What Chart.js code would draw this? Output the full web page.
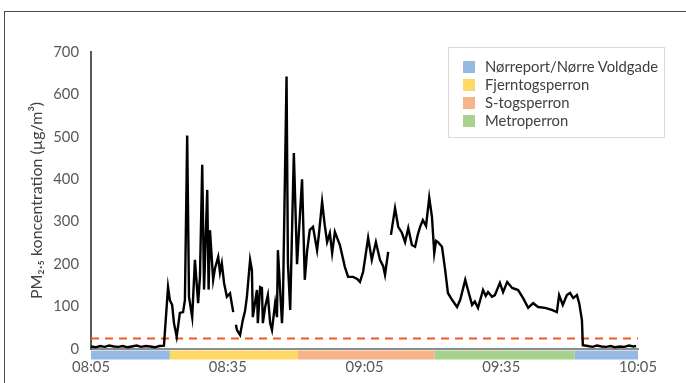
<!DOCTYPE html>
<html>
<head>
<meta charset="utf-8">
<script src="https://cdn.jsdelivr.net/npm/chart.js@4/dist/chart.umd.min.js"></script>
<style>
  body { margin: 0; background: #fff; }
  #wrap { position: relative; width: 686px; height: 383px; overflow: hidden; }
  #frame { position: absolute; left: 4px; top: 11px; width: 800px; height: 500px; border: 1.5px solid #4a4a4a; }
  #legend { position: absolute; left: 448px; top: 47px; width: 215px; height: 89px; border: 1px solid #d9d9d9;
            font-family: Lato, "Open Sans", sans-serif; font-size: 14.8px; color: #404040; }
  .item { position: absolute; left: 14px; height: 18px; line-height: 18px; white-space: nowrap; }
  .item i { display: inline-block; width: 12px; height: 12px; margin-right: 10px; vertical-align: -1px; }
  canvas { position: absolute; left: 0; top: 0; }
</style>
</head>
<body>
<div id="wrap">
  <div id="frame"></div>
  <canvas id="chart" width="686" height="383"></canvas>
  <div id="legend"></div>
</div>
<script>
// minutes after 08:05
const minutes = [
  0, 1, 2, 3, 4, 5, 6, 7, 8, 9, 10, 11, 12, 13, 14, 15, 16,
  16.9, 17.3, 17.8, 18.2, 18.8, 19.5, 20.2, 20.6, 21.1, 21.5, 22.2, 22.8, 23.5, 23.9, 24.4, 24.8, 25.5, 25.8, 26.1, 26.8,
  27.2, 27.9, 28.3, 28.7, 29.2, 29.8, 30.5, 31.2, 31.5,
  31.8, 32.0, 32.7, 33.3, 33.8, 34.2, 34.9, 35.3, 35.5, 36.4, 36.6, 37.1, 37.5, 37.7, 38.2, 38.8, 39.3, 39.7, 40.4, 40.8,
  41.0, 41.9, 42.1, 42.9, 43.2, 43.7, 44.5, 45.2, 46.3, 46.9, 47.4, 48.0, 48.7, 49.6, 50.0, 50.7, 51.3, 51.8, 52.4, 52.9,
  53.5, 54.0, 54.6, 55.7, 56.4, 57.5, 58.4, 59.0, 59.7, 60.8, 61.6, 62.5, 63.4, 64.1, 64.5, 65.2, 65.5,
  65.8, 66.7, 67.4, 68.2, 68.9, 69.6, 70.4, 71.1, 71.7, 72.2, 72.8, 73.5, 74.2, 74.8, 75.3, 75.7, 76.1, 77.0, 77.7, 78.3,
  79.2, 80.3, 81.0, 82.1, 82.7, 83.6, 84.2, 84.9, 86.0, 86.6, 87.1, 88.0, 88.6, 89.7, 90.4, 91.3, 92.4, 93.7, 94.8, 95.9,
  97.0, 98.1, 99.6, 101.1, 102.2, 102.7, 103.5, 104.4, 105.1, 105.8, 106.6, 107.1, 107.7, 107.9,
  109, 110, 111, 112, 113, 114, 115, 116, 117, 118, 119, 119.6
];
const pm25 = [
  6, 4, 7, 5, 8, 6, 5, 7, 4, 6, 8, 5, 7, 6, 4, 7, 8,
  146, 115, 104, 61, 29, 85, 87, 115, 503, 123, 75, 210, 108, 170, 434, 140, 375, 140, 280, 163,
  190, 217, 180, 202, 155, 123, 131, 87, null,
  57, 45, 33, 68, 90, 123, 210, 186, 75, 139, 61, 146, 144, 61, 99, 127, 61, 45, 108, 75,
  233, 61, 108, 642, 203, 92, 462, 200, 400, 163, 230, 281, 288, 233, 270, 347, 290, 252, 273, 226,
  276, 262, 245, 193, 170, 170, 165, 158, 182, 262, 210, 252, 210, 195, 175, 229, null,
  269, 332, 288, 274, 252, 285, 245, 241, 270, 288, 304, 290, 357, 311, 226, 255, 252, 241, 186, 132,
  116, 99, 116, 163, 139, 104, 112, 97, 139, 125, 134, 123, 127, 156, 134, 158, 144, 139, 120, 97,
  108, 99, 97, 92, 87, 127, 104, 127, 132, 120, 127, 108, 68, 9,
  7, 5, 8, 6, 5, 7, 4, 6, 5, 8, 6, 7
];

const limitMinutes = [0, 120];
const limitValues = [25, 25];

const locationLabels = ["Nørreport/Nørre Voldgade", "Fjerntogsperron", "S-togsperron", "Metroperron"];
const locationColors = ["#95b9e2", "#ffd966", "#f6b48a", "#a9d18e"];
const bandStart = [0, 17.3, 45.4, 75.4, 106.1];
const bandEnd = [17.3, 45.4, 75.4, 106.1, 120];
const bandLocation = [0, 1, 2, 3, 0];

const yTicks = [0, 100, 200, 300, 400, 500, 600, 700];

function clock(m) {
  const t = 8 * 60 + 5 + m;
  const h = Math.floor(t / 60), mm = t % 60;
  return String(h).padStart(2, "0") + ":" + String(mm).padStart(2, "0");
}

const bandPlugin = {
  id: "bands",
  afterDraw(chart) {
    const ctx = chart.ctx, x = chart.scales.x, area = chart.chartArea;
    ctx.save();
    bandStart.forEach((s, i) => {
      const x1 = x.getPixelForValue(s), x2 = x.getPixelForValue(bandEnd[i]);
      ctx.fillStyle = locationColors[bandLocation[i]];
      ctx.fillRect(x1, area.bottom + 1.5, x2 - x1, 9);
    });
    ctx.restore();
  }
};

const font = { family: "Lato, 'Open Sans', sans-serif", size: 14.8 };

new Chart(document.getElementById("chart"), {
  type: "scatter",
  data: {
    datasets: [
      {
        data: minutes.map((m, i) => ({ x: m, y: pm25[i] })),
        showLine: true,
        borderColor: "#000",
        borderWidth: 2.4,
        pointRadius: 0,
        spanGaps: false
      },
      {
        data: limitMinutes.map((m, i) => ({ x: m, y: limitValues[i] })),
        showLine: true,
        borderColor: "#f05a28",
        borderWidth: 2,
        borderDash: [8, 6],
        pointRadius: 0
      }
    ]
  },
  options: {
    responsive: false,
    animation: false,
    layout: { padding: { left: 27, top: 52, right: 48, bottom: 0 } },
    plugins: { legend: { display: false }, tooltip: { enabled: false } },
    scales: {
      x: {
        type: "linear",
        min: 0,
        max: 120,
        afterFit(s) { s.height = 34; },
        afterBuildTicks(s) { s.ticks = [0, 30, 60, 90, 120].map(v => ({ value: v })); },
        grid: { display: false, drawTicks: false },
        border: { display: true, color: "#8c8c8c", width: 2 },
        ticks: { color: "#595959", font: font, padding: 9, maxRotation: 0, callback: v => clock(v) }
      },
      y: {
        min: 0,
        max: 700,
        afterFit(s) { s.width = 64; },
        afterBuildTicks(s) { s.ticks = yTicks.map(v => ({ value: v })); },
        grid: { display: false, drawTicks: false },
        border: { display: true, color: "#595959", width: 2 },
        ticks: { color: "#595959", font: font, padding: 12 },
        title: {
          display: true,
          text: "PM₂.₅ koncentration (µg/m³)",
          color: "#404040",
          font: { family: font.family, size: 16 },
          padding: 0
        }
      }
    }
  },
  plugins: [bandPlugin]
});

const legend = document.getElementById("legend");
locationLabels.forEach((label, i) => {
  const row = document.createElement("div");
  row.className = "item";
  row.style.top = (9 + i * 18) + "px";
  const box = document.createElement("i");
  box.style.background = locationColors[i];
  row.appendChild(box);
  row.appendChild(document.createTextNode(label));
  legend.appendChild(row);
});
</script>
</body>
</html>
